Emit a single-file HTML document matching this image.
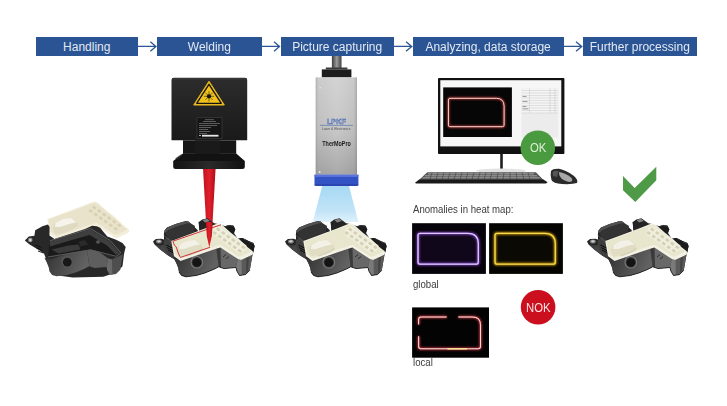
<!DOCTYPE html>
<html><head><meta charset="utf-8">
<style>
html,body{margin:0;padding:0;background:#fff;}
body{width:727px;height:406px;position:relative;overflow:hidden;font-family:"Liberation Sans",sans-serif;}
#wrap{position:absolute;left:0;top:0;width:727px;height:406px;filter:blur(0.3px);}
.hb{position:absolute;top:37.3px;height:18.6px;background:#2b5494;color:#e2e9f2;font-size:12px;line-height:20.4px;text-align:center;white-space:nowrap;}
.t{position:absolute;font-size:10.4px;color:#3a3a3a;white-space:nowrap;line-height:1;}
.s{transform:scaleX(0.925);transform-origin:0 0;}
svg{position:absolute;left:0;top:0;}
</style></head>
<body>
<div id="wrap">
<svg width="727" height="406" viewBox="0 0 727 406">
<defs>
  <linearGradient id="gBody" x1="0" y1="0" x2="0" y2="1">
    <stop offset="0" stop-color="#3a3a3a"/><stop offset="1" stop-color="#1c1c1c"/>
  </linearGradient>
  <linearGradient id="gLid" x1="0" y1="0" x2="1" y2="1">
    <stop offset="0" stop-color="#eeeadb"/><stop offset="1" stop-color="#e6e0c8"/>
  </linearGradient>
  <linearGradient id="gSilver" x1="0" y1="0" x2="1" y2="0">
    <stop offset="0" stop-color="#8c8c8c"/><stop offset="0.35" stop-color="#c4c4c4"/><stop offset="0.7" stop-color="#b4b4b4"/><stop offset="1" stop-color="#7a7a7a"/>
  </linearGradient>
  <linearGradient id="gRod" x1="0" y1="0" x2="1" y2="0">
    <stop offset="0" stop-color="#3c3c3c"/><stop offset="0.5" stop-color="#9a9a9a"/><stop offset="1" stop-color="#404040"/>
  </linearGradient>
  <linearGradient id="gCone" x1="0" y1="0" x2="0" y2="1">
    <stop offset="0" stop-color="#a6d9f4"/><stop offset="0.7" stop-color="#c2e4f7"/><stop offset="1" stop-color="#d6edfa" stop-opacity="0.8"/>
  </linearGradient>
  <linearGradient id="gBeam" x1="0" y1="0" x2="1" y2="0">
    <stop offset="0" stop-color="#c0101c"/><stop offset="0.5" stop-color="#e0202c"/><stop offset="1" stop-color="#b00c18"/>
  </linearGradient>
  <linearGradient id="gLaser" x1="0" y1="0" x2="0" y2="1">
    <stop offset="0" stop-color="#2c2c2c"/><stop offset="1" stop-color="#1a1a1a"/>
  </linearGradient>
  <linearGradient id="gSilverV" x1="0" y1="0" x2="0" y2="1">
    <stop offset="0" stop-color="#d0d0d0"/><stop offset="0.55" stop-color="#c2c2c2"/><stop offset="1" stop-color="#a2a2a2"/>
  </linearGradient>
  <linearGradient id="gSilverH" x1="0" y1="0" x2="1" y2="0">
    <stop offset="0" stop-color="#707070" stop-opacity="0.35"/><stop offset="0.06" stop-color="#909090" stop-opacity="0.08"/><stop offset="0.5" stop-color="#ffffff" stop-opacity="0.08"/><stop offset="0.92" stop-color="#909090" stop-opacity="0.1"/><stop offset="1" stop-color="#707070" stop-opacity="0.4"/>
  </linearGradient>
  <linearGradient id="gFlange" x1="0" y1="0" x2="1" y2="0">
    <stop offset="0" stop-color="#141414"/><stop offset="0.5" stop-color="#2a2a2a"/><stop offset="1" stop-color="#111"/>
  </linearGradient>
  <filter id="glow" x="-20%" y="-20%" width="140%" height="140%"><feGaussianBlur stdDeviation="0.9"/></filter>

  <linearGradient id="gFront" x1="0" y1="0" x2="1" y2="0.3">
    <stop offset="0" stop-color="#303030"/><stop offset="1" stop-color="#626262"/>
  </linearGradient>
  <g id="body">
    <path fill="#242424" d="M5 29.6L7.9 27L13.1 26.7L16 27.5L16 21.6L16.4 18.5L19 15.5L27.6 12.1L37.9 9.1L40.5 9.5L49.6 18L50 19.6L51.2 19.2L50.9 13L50.4 10.2L54.3 7.4L59.4 6.2L66.2 11.3L70 12L77.3 14.2L81.1 12.9L85.5 13.8L87.2 17.2L86 21L89.8 26.7L94.1 25.9L97.5 27.6L101 29.3L105.3 31L106.6 34.1L105.3 40.2L104.4 43.6L101.8 58.3L97.5 62.6L91.5 63.5L88.9 59.1L88 55.5L76 56.6L70.8 54.8L65.6 57.4L57 60.9L48.3 63.5L37.9 64.8L33.6 63.5L31 60L30.2 55.7L28.5 51.4L26.4 47.3L20.5 43.7L11.6 37L6.4 32.2Z"/>
    <path fill="#3e3e3e" d="M15.3 32.9L16 27.5L20 25L25 28L25 38.4L25.9 43.6L26.4 47.3L20.5 43.7L11.6 37Z"/>
    <path fill="#4a4a4a" d="M6.4 32.2L10.9 33.3L15.3 32.9L20.5 43.7L11.6 37Z" opacity="0.7"/>
    <path fill="#505050" d="M16.6 18.8L19 15.5L27.6 12.1L37.9 9.1L40.5 9.5L43 11.5L38.5 11.8L28 15L20 18.5L17.5 21Z"/>
    <path fill="#333" d="M17 21.5L20 18.5L28 15L38.5 11.8L43 11.5L47 14L46 20L30 26L22 28Z"/>
    <path fill="none" stroke="#6a6a6a" stroke-width="0.6" d="M15.5 23L23.4 29.6"/>
    <path fill="url(#gFront)" d="M25.9 46.2L31.9 47.9L57 39.3L68.2 35.5L70.8 54.8L65.6 57.4L57 60.9L48.3 63.5L37.9 64.8L33.6 63.5L31 60L30.2 55.7L28.5 51.4Z"/>
    <path fill="#686868" d="M68.2 35.5L72.5 34.5L89.8 47.1L88 55.5L76 56.6L70.8 54.8Z"/>
    <path fill="#3a3a3a" d="M68.2 35.5L72.5 34.5L73 55.5L70.8 54.8Z"/>
    <path fill="#5a5a5a" d="M89.8 47.1L93.2 47.9L104.4 42.8L101.8 58.3L97.5 62.6L91.5 63.5L88.9 59.1L88 55.5Z"/>
    <path fill="#7a7a7a" d="M89.8 47.1L93.5 48L93.8 63.2L91.5 63.5L88.9 59.1L88 55.5Z"/>
    <path fill="#444" d="M98.5 45L101 44L100 59L98 61Z"/>
    <g stroke="#0e0e0e" stroke-width="1" fill="none"><path d="M18.3 33L24.5 36M19 35.5L25 38.6M20 38L25.5 41"/></g>
    <g stroke="#151515" stroke-width="0.7" fill="none"><path d="M75 45L78 42.5M78 47L81 44.5"/></g>
    <path fill="none" stroke="#161616" stroke-width="0.8" d="M31 60L33.6 63.5L37.9 64.8L48.3 63.5L57 60.9L65.6 57.4L70.8 54.8L76 56.6L88 55.5L88.9 59.1L91.5 63.5L97.5 62.6L101.8 58.3"/>
    <circle cx="48.8" cy="50.2" r="6.3" fill="#7a7a7a"/>
    <circle cx="48.8" cy="50.2" r="5.2" fill="#333"/>
    <circle cx="48.9" cy="50.5" r="4.3" fill="#141414"/>
    <path fill="#9a9a9a" d="M54.5 8L59 6.8L62 9L57 10.5Z" opacity="0.8"/>
    <path fill="#1c1c1c" d="M77.3 14.2L81.1 12.9L85.5 13.8L87.2 17.2L86 21L80 20Z"/>
    <path fill="#1c1c1c" d="M89.8 26.7L94.1 25.9L97.5 27.6L101 29.3L105.3 31L106.6 34.1L105.3 40.2L95 36Z"/>
    <path fill="none" stroke="#505050" stroke-width="0.6" d="M78 14.3L81.1 13.3L85.3 14.2M95 26.4L97.5 27.9M101 29.7L105 31.4"/>
    <ellipse cx="10.9" cy="29.4" rx="3" ry="2" fill="#777"/>
    <ellipse cx="10.9" cy="29.3" rx="1.8" ry="1.1" fill="#d0d0d0"/>
  </g>
  <g id="lid">
    <path fill="#f2f1e3" d="M23.3 28.9L57 16.4L68.2 12.1L71.2 11.6L74.2 12.9L82.9 20.7L91.5 27.6L99.3 35L104.4 39L105.3 40.2L104.4 42.8L93.2 47.9L89.8 47.1L72.5 35.5L68.2 36.8L57 40.6L32.5 49L26 44.2L25 38.4Z"/>
    <path fill="#e8e6cc" d="M24.6 29.6L57 17.6L68.2 13.3L71 12.9L73.5 14L82.2 21.6L91 28.6L98.6 35.8L103.2 39.6L93 44.6L90.2 44.2L72.5 32.8L68 34L57 37.8L32.6 46.2L27.2 42L26.2 37.5Z"/>
    <path fill="#e0ddc4" d="M28.7 38L31 33L39 28.5L47 27.6L53 32L54.5 35.5L50 38.5L38 43.5L30.5 44Z"/>
    <path fill="#f3f1e7" d="M31.5 33L39 28.8L47 27.9L52.5 32.2L45 34L36 37L31 37Z"/>
    <path fill="#d6d2b6" d="M50 38.5L54.5 35.5L54.8 37L51 40L38.5 44.8L38 43.5Z"/>
    <path fill="#f0eedf" d="M66 15.5L71.5 14.5L98.5 33.5L97 38.5L91 41.5L64 22Z"/>
    <path fill="#d4d0b0" d="M69.7 15.4L72.6 17.6L70.9 19.6L68.0 17.4ZM66.1 18.9L69.0 21.1L67.3 23.1L64.4 20.9ZM74.7 19.0L77.6 21.1L75.9 23.1L73.0 21.0ZM71.1 22.5L74.0 24.6L72.3 26.6L69.4 24.5ZM79.7 22.6L82.6 24.7L80.9 26.7L78.0 24.6ZM76.1 26.1L79.0 28.2L77.3 30.2L74.4 28.1ZM84.7 26.1L87.6 28.2L85.9 30.2L83.0 28.1ZM81.1 29.6L84.0 31.7L82.3 33.7L79.4 31.6ZM89.7 29.6L92.6 31.8L90.9 33.8L88.0 31.6ZM86.1 33.2L89.0 35.2L87.3 37.2L84.4 35.2ZM94.7 33.2L97.6 35.3L95.9 37.3L93.0 35.2ZM91.1 36.7L94.0 38.8L92.3 40.8L89.4 38.7Z"/>
  </g>
</defs>

<!-- arrows -->
<g stroke="#2c5596" fill="none" stroke-width="1.3">
<path d="M138 46.4H156.5M150.4 41.8L155.9 46.4L150.4 51.2"/>
<path d="M261.6 46.4H280M274 41.8L279.5 46.4L274 51.2"/>
<path d="M393.8 46.4H412M406 41.8L411.8 46.4L406 51.2"/>
<path d="M563.6 46.4H582M576 41.8L581.8 46.4L576 51.2"/>
</g>

<!-- ===== Part 1 (handling) ===== -->
<g transform="translate(24 190)">
  <path fill="#f2eed9" d="M23.3 28.9L57 16.4L68.2 12.1L71.2 11.6L74.2 12.9L82.9 20.7L91.5 27.6L99.3 35L104.4 39L105.3 40.2L104.4 42.8L93.2 47.9L89.8 47.1L72.5 35.5L68.2 36.8L57 40.6L32.5 49L26 44.2L25 38.4Z"/>
  <path fill="#e9e3cb" d="M24.6 29.6L57 17.6L68.2 13.3L71 12.9L73.5 14L82.2 21.6L91 28.6L98.6 35.8L103.2 39.6L93 44.6L90.2 44.2L72.5 32.8L68 34L57 37.8L32.6 46.2L27.2 42L26.2 37.5Z"/>
  <path fill="#e0dac2" d="M28.7 38L31 33L39 28.5L47 27.6L53 32L54.5 35.5L50 38.5L38 43.5L30.5 44Z"/>
  <path fill="#f6f4ea" d="M31.5 33L39 28.8L47 27.9L52.5 32.2L45 34L36 37L31 37Z"/>
  <path fill="#d8d0b0" d="M69.7 15.4L72.6 17.6L70.9 19.6L68.0 17.4ZM66.1 18.9L69.0 21.1L67.3 23.1L64.4 20.9ZM74.7 19.0L77.6 21.1L75.9 23.1L73.0 21.0ZM71.1 22.5L74.0 24.6L72.3 26.6L69.4 24.5ZM79.7 22.6L82.6 24.7L80.9 26.7L78.0 24.6ZM76.1 26.1L79.0 28.2L77.3 30.2L74.4 28.1ZM84.7 26.1L87.6 28.2L85.9 30.2L83.0 28.1ZM81.1 29.6L84.0 31.7L82.3 33.7L79.4 31.6ZM89.7 29.6L92.6 31.8L90.9 33.8L88.0 31.6ZM86.1 33.2L89.0 35.2L87.3 37.2L84.4 35.2ZM94.7 33.2L97.6 35.3L95.9 37.3L93.0 35.2ZM91.1 36.7L94.0 38.8L92.3 40.8L89.4 38.7Z"/>
</g>
<g transform="translate(18.5 211.5)">
  <path fill="#282828" d="M6.3 29.1L10.3 25.1L15.9 24.3L16.7 18.7L23.9 14.7L29.5 13.1L31.1 15.5L31 24L36 27.5L66.5 17.5L73.6 14.2L78.4 14.7L81.6 16.3L88.8 25.1L97.6 28.3L104 31.5L107.2 35.5L105.6 41.9L104 54.7L97.6 61.1L84.8 65.2L54.3 66L41.5 64.3L33.5 61.9L30.3 54.7L25.5 41.9L20.7 38.7L11.1 33.1Z"/>
  <path fill="url(#gFront)" d="M25.9 46.2L31.9 47.9L57 39.3L68.2 35.5L70.8 54.8L65.6 57.4L57 60.9L48.3 63.5L37.9 64.8L33.6 63.5L31 60L30.2 55.7L28.5 51.4Z"/>
  <path fill="#5e5e5e" d="M68.2 35.5L72.5 34.5L89.8 47.1L88 55.5L76 56.6L70.8 54.8Z"/>
  <path fill="#4e4e4e" d="M89.8 47.1L93.2 47.9L104.4 42.8L101.8 58.3L97.5 62.6L91.5 63.5L88.9 59.1L88 55.5Z"/>
  <path fill="#6a6a6a" d="M89.8 47.1L93.5 48L93.8 63.2L91.5 63.5L88.9 59.1L88 55.5Z"/>
  <path fill="#1a1a1a" d="M31 30L50 24.5L72 17.8L91.2 29.9L101.6 41.9L97.6 44.3L72 37.9L29.5 45.1Z"/>
  <path fill="#3e3e3e" d="M31 30L50 24.5L72 17.8L91.2 29.9L101.6 41.9L97.5 43.2L88.5 34L71 23.5L50 29.5L31.5 35Z"/>
  <path fill="#2a2a2a" d="M60 30L66 28.5L70 33L62 35Z"/>
  <path fill="#555" d="M77 30L80 28.5L82 31L79 32.5Z"/>
  <path fill="none" stroke="#6e6e6e" stroke-width="0.8" d="M31.5 29.2L50 23.8L72 17L91.8 29.2L102.5 41.5"/>
  <path fill="none" stroke="#5a5a5a" stroke-width="1" d="M29.5 45.5L72 38.3L97.6 44.8L102 42"/>
  <path fill="#3a3a3a" d="M33 38L50 34L60 33L62 38L40 42Z"/>
  <g stroke="#111" stroke-width="0.9" fill="none"><path d="M17 33.5L23 36M18 36.5L24 39M19.5 39.5L25 41.5"/></g>
  <circle cx="48.8" cy="50.4" r="6.2" fill="#555"/>
  <circle cx="48.8" cy="50.6" r="4.4" fill="#181818"/>
  <circle cx="11.8" cy="28.5" r="2.3" fill="#8a8a8a"/>
  <circle cx="11.8" cy="28.5" r="1.2" fill="#d6d6d6"/>
</g>
<!-- ===== Laser head ===== -->
<path fill="url(#gBeam)" d="M203 168H215.6L211.8 236L209.3 247L206.8 236Z"/>
<path fill="url(#gLaser)" d="M171.5 80Q171.5 77.8 173.7 77.8H245Q247.2 77.8 247.2 80V140.3H171.5Z"/>
<rect x="172" y="78.2" width="74.7" height="1.2" fill="#3a3a3a"/>
<rect x="183" y="140.3" width="53.2" height="13.5" fill="#161616"/>
<rect x="195" y="140.3" width="25" height="13.5" fill="#1a1a1a"/>
<path fill="#121212" d="M183 153.5H236.2L244.8 161H173.2Z"/>
<path fill="#2c2c2c" d="M175 158.5L181 154.5L183 154.5L178 159.5Z" opacity="0.8"/>
<path fill="url(#gFlange)" d="M173.2 161H244.8V166.6Q244.8 169.1 242.3 169.1H175.7Q173.2 169.1 173.2 166.6Z"/>
<path fill="#e8b820" stroke="#e8b820" stroke-width="1" stroke-linejoin="round" d="M209 81.2L224.3 105H193.7Z"/>
<path fill="#f2c21c" stroke="#141414" stroke-width="1.3" stroke-linejoin="round" d="M209 84.3L221.3 103.3H196.7Z"/>
<circle cx="209" cy="96.3" r="2.1" fill="#141414"/>
<g stroke="#141414" stroke-width="0.55"><path d="M209 91.2V101.4M203.9 96.3H214.1M205.4 92.7L212.6 99.9M212.6 92.7L205.4 99.9"/></g>
<rect x="197" y="117.8" width="25" height="21" fill="#151515" stroke="#555" stroke-width="0.4"/>
<g fill="#8c8c8c"><rect x="205" y="119.5" width="9" height="0.6"/><rect x="203" y="121.2" width="13" height="0.6"/><rect x="199" y="123.3" width="21" height="0.6"/><rect x="199" y="125" width="18" height="0.6"/><rect x="199" y="127" width="12" height="0.6"/><rect x="199" y="129" width="9" height="0.6"/><rect x="199" y="131" width="11" height="0.6"/><rect x="199" y="133" width="8" height="0.6"/></g>
<rect x="199" y="135.2" width="2" height="0.8" fill="#ddd"/><rect x="202" y="134.8" width="16.5" height="1.8" fill="#e6e6e6"/>

<!-- ===== Camera ===== -->
<path fill="url(#gCone)" d="M322.2 186H349L358.4 222H312.8Z"/>
<rect x="331.9" y="56" width="9.6" height="13" fill="url(#gRod)"/>
<path fill="#3a3a3a" d="M325.8 67.5H347.4V69.4H325.8Z"/>
<rect x="321.8" y="69.4" width="29.6" height="8" fill="#1c1c1c"/>
<rect x="315.7" y="77.4" width="41.3" height="97.3" fill="url(#gSilverV)"/>
<rect x="315.7" y="77.4" width="41.3" height="97.3" fill="url(#gSilverH)"/>
<circle cx="320.2" cy="87.8" r="0.8" fill="#e8e8e8"/>
<circle cx="319.7" cy="172" r="1" fill="#e8e8e8"/>
<path fill="#3352c4" d="M314.5 174.7H358.4V183.9Q358.4 185.9 356.4 185.9H316.5Q314.5 185.9 314.5 183.9Z"/>
<rect x="314.5" y="174.7" width="43.9" height="2.2" fill="#5c74da"/>
<rect x="314.5" y="184" width="43.9" height="1.9" fill="#2840a8" opacity="0.7"/>
<text x="336.4" y="123.8" font-size="7.6" font-weight="bold" fill="#c4cbe0" stroke="#4566a8" stroke-width="0.5" text-anchor="middle" font-family="Liberation Sans" textLength="19" lengthAdjust="spacingAndGlyphs">LPKF</text>
<rect x="319.9" y="124.9" width="33" height="0.7" fill="#5a78b0"/>
<text x="336.1" y="130.2" font-size="3.2" fill="#505050" text-anchor="middle" font-family="Liberation Sans" textLength="28.6" lengthAdjust="spacingAndGlyphs">Laser &amp; Electronics</text>
<text x="336.6" y="146" font-size="6.8" font-weight="bold" fill="#1a1a1a" text-anchor="middle" font-family="Liberation Sans" textLength="28.6" lengthAdjust="spacingAndGlyphs">TherMoPro</text>

<!-- ===== Monitor ===== -->
<rect x="438" y="78.1" width="126.4" height="75.9" rx="0.8" fill="#121212"/>
<rect x="440.3" y="80.2" width="121" height="66.2" fill="#f6f6f6"/>
<rect x="443.2" y="87.4" width="68.7" height="49.6" fill="#060606"/>
<path fill="none" stroke="#d04040" stroke-width="2" opacity="0.9" filter="url(#glow)" d="M449.9 98.3H496.3Q504.1 98.3 504.1 106.1V125.2Q504.1 126.7 502.6 126.7H449.9Q448.4 126.7 448.4 125.2V99.8Q448.4 98.3 449.9 98.3Z"/>
<path fill="none" stroke="#ffd8d0" stroke-width="1" d="M449.9 98.3H496.3Q504.1 98.3 504.1 106.1V125.2Q504.1 126.7 502.6 126.7H449.9Q448.4 126.7 448.4 125.2V99.8Q448.4 98.3 449.9 98.3Z"/>
<rect x="521.6" y="88.6" width="36.6" height="49" fill="#ececec"/>
<rect x="521.6" y="88.6" width="36.6" height="24.5" fill="#f4f4f4"/>
<g stroke="#b8b8b8" stroke-width="0.35"><path d="M521.6 90.5H558.2M521.6 93H558.2M521.6 95.5H558.2M521.6 98H558.2M521.6 100.5H558.2M521.6 103H558.2M521.6 105.5H558.2M521.6 108H558.2M521.6 110.5H558.2M521.6 113H558.2M529.5 88.6V113M550 88.6V113M555 88.6V113"/></g>
<g fill="#888"><rect x="522.5" y="96" width="4" height="0.8"/><rect x="522.5" y="101" width="5" height="0.8"/><rect x="522.5" y="106" width="4" height="0.8"/><rect x="522.5" y="108.5" width="6" height="0.8"/></g>
<rect x="500.2" y="154" width="2.6" height="15.8" fill="#1e1e1e"/>
<ellipse cx="501" cy="170.8" rx="25" ry="2.2" fill="#e2e2e2"/>
<path fill="#555" d="M427.3 172.3H535.9L543 179.5H419.5Z"/>
<g fill="#a0a0a0" opacity="0.9"><rect x="428" y="173.2" width="106" height="1.2"/><rect x="425" y="175.2" width="112" height="1.2"/><rect x="422.5" y="177.2" width="117" height="1.2"/></g>
<g stroke="#333" stroke-width="0.5"><path d="M432 172.5L430 179.3M438 172.5L436 179.3M444 172.5L442 179.3M450 172.5L448 179.3M456 172.5L454 179.3M462 172.5L460 179.3M468 172.5L466 179.3M474 172.5L472 179.3M480 172.5L478 179.3M486 172.5L484 179.3M492 172.5L490 179.3M498 172.5L497 179.3M504 172.5L503 179.3M510 172.5L510 179.3M516 172.5L517 179.3M522 172.5L524 179.3M528 172.5L530 179.3"/></g>
<path fill="#1a1a1a" d="M419.5 179.3H543L547.6 182.2L546 183.4H416L415 182.8Z"/>
<path fill="#2a2a2a" d="M551 171Q553 168.4 559 168.8Q566 170 574 176Q578.5 180 577 183Q572 184.6 562 184Q553 183.5 551.5 180Q550 175 551 171Z"/>
<path fill="#a8a8a8" d="M559 172Q566 173 571 177.5Q574 181 570 182Q564 181 561 178Q558.5 175 559 172Z"/>
<path fill="#555" d="M552.5 172Q555 170 558.5 171L557 177L553 176Z"/>

<!-- OK circle -->
<circle cx="537.8" cy="147.8" r="17.3" fill="#4a9b3f"/>

<!-- heat maps -->
<rect x="412.1" y="223.2" width="73.8" height="50.7" fill="#07030a"/>
<rect x="418" y="233" width="60" height="30" fill="#10071a"/>
<path fill="none" stroke="#8a48d8" stroke-width="2.8" opacity="0.85" filter="url(#glow)" d="M420.0 233.3H467.8Q478.3 233.3 478.3 243.8V262.2Q478.3 264.2 476.3 264.2H420.0Q418.0 264.2 418.0 262.2V235.3Q418.0 233.3 420.0 233.3Z"/>
<path fill="none" stroke="#cfaeff" stroke-width="1.3" d="M420.0 233.3H467.8Q478.3 233.3 478.3 243.8V262.2Q478.3 264.2 476.3 264.2H420.0Q418.0 264.2 418.0 262.2V235.3Q418.0 233.3 420.0 233.3Z"/>
<path fill="none" stroke="#f4ecff" stroke-width="0.5" d="M420.0 233.3H467.8Q478.3 233.3 478.3 243.8V262.2Q478.3 264.2 476.3 264.2H420.0Q418.0 264.2 418.0 262.2V235.3Q418.0 233.3 420.0 233.3Z"/>
<rect x="489.1" y="223.2" width="73.8" height="50.7" fill="#050400"/>
<rect x="495" y="233" width="60" height="30" fill="#0b0903"/>
<path fill="none" stroke="#d8a810" stroke-width="2.8" opacity="0.85" filter="url(#glow)" d="M497.0 233.3H544.8Q555.3 233.3 555.3 243.8V262.2Q555.3 264.2 553.3 264.2H497.0Q495.0 264.2 495.0 262.2V235.3Q495.0 233.3 497.0 233.3Z"/>
<path fill="none" stroke="#f2cc2c" stroke-width="1.3" d="M497.0 233.3H544.8Q555.3 233.3 555.3 243.8V262.2Q555.3 264.2 553.3 264.2H497.0Q495.0 264.2 495.0 262.2V235.3Q495.0 233.3 497.0 233.3Z"/>
<path fill="none" stroke="#fff0a0" stroke-width="0.4" d="M497.0 233.3H544.8Q555.3 233.3 555.3 243.8V262.2Q555.3 264.2 553.3 264.2H497.0Q495.0 264.2 495.0 262.2V235.3Q495.0 233.3 497.0 233.3Z"/>
<rect x="412.1" y="307.4" width="76.9" height="50.3" fill="#030303"/>
<path fill="none" stroke="#d83848" stroke-width="2.6" opacity="0.85" filter="url(#glow)" d="M418.6 324.4V319.2Q418.6 317.0 420.8 317.0H446.7M458.3 317.0H472.5Q480.5 317.0 480.5 325.0V346.6Q480.5 348.8 478.3 348.8H420.8Q418.6 348.8 418.6 346.6V336.3"/>
<path fill="none" stroke="#f8b4ac" stroke-width="1.1" d="M418.6 324.4V319.2Q418.6 317.0 420.8 317.0H446.7M458.3 317.0H472.5Q480.5 317.0 480.5 325.0V346.6Q480.5 348.8 478.3 348.8H420.8Q418.6 348.8 418.6 346.6V336.3"/>
<path fill="none" stroke="#fff0ea" stroke-width="0.5" d="M418.6 324.4V319.2Q418.6 317.0 420.8 317.0H446.7M458.3 317.0H472.5Q480.5 317.0 480.5 325.0V346.6Q480.5 348.8 478.3 348.8H420.8Q418.6 348.8 418.6 346.6V336.3"/>
<path d="M447.2 348.8H467.2" stroke="#e8b830" stroke-width="2.4" opacity="0.7" filter="url(#glow)"/>
<path d="M447.2 348.8H467.2" stroke="#fbe27a" stroke-width="1.3"/>
<path d="M448 348.8H466.5" stroke="#fff6c8" stroke-width="0.5"/>

<!-- NOK circle -->
<circle cx="538.1" cy="307.2" r="17.3" fill="#cc0f1f"/>

<!-- checkmark -->
<path fill="#4e9a46" d="M623 176L634.7 188.1L656.3 166.8V180.3L635.3 201.9L623 190.2Z"/>

<!-- parts -->
<g transform="translate(148 212)"><use href="#body"/><use href="#lid"/>
<path fill="none" stroke="#c8202a" stroke-width="0.9" d="M73 12.8L57 18.1L24.9 29.2L26.3 33L28.2 35L30.6 42L32.5 45.4L57 37L62 35.3"/>
</g>
<path fill="url(#gBeam)" d="M205.9 222H212.7L211.8 236L209.3 247.2L206.8 236Z"/>
<g transform="translate(280 212)"><use href="#body"/><use href="#lid"/></g>
<g transform="translate(582 212)"><use href="#body"/><use href="#lid"/></g>
</svg>
<div class="hb" style="left:35.5px;width:102.5px">Handling</div>
<div class="hb" style="left:157.2px;width:104.4px">Welding</div>
<div class="hb" style="left:280.5px;width:113.3px">Picture capturing</div>
<div class="hb" style="left:412.6px;width:151px">Analyzing, data storage</div>
<div class="hb" style="left:582.6px;width:114.4px">Further processing</div>
<div class="t s" style="left:412.5px;top:205.3px">Anomalies in heat map:</div>
<div class="t s" style="left:412.5px;top:280.3px">global</div>
<div class="t s" style="left:412.5px;top:358.3px">local</div>
<div class="t" style="left:529.6px;top:142.2px;font-size:12.3px;color:#dff0da;transform:scaleX(0.92);transform-origin:0 0">OK</div>
<div class="t" style="left:525.8px;top:302.2px;font-size:12.3px;color:#fae6e6;transform:scaleX(0.92);transform-origin:0 0">NOK</div>
</div>
</body></html>
